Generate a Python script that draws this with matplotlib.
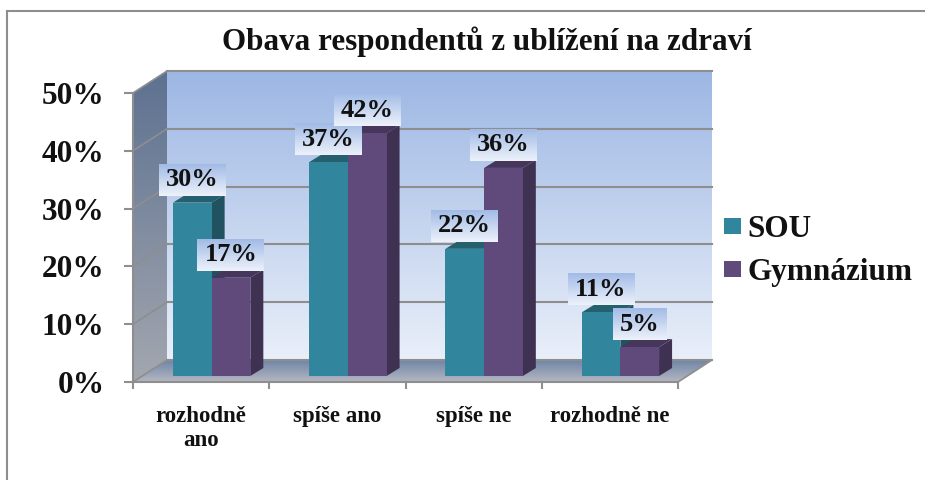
import numpy as np
import matplotlib
matplotlib.use('Agg')
import matplotlib.pyplot as plt
from matplotlib.colors import LinearSegmentedColormap
from matplotlib.lines import Line2D
from matplotlib.patches import Patch, Polygon

# data
categories = ['rozhodně\nano', 'spíše ano', 'spíše ne', 'rozhodně ne']
sou = [30, 37, 22, 11]
gymnazium = [17, 42, 36, 5]
y_ticks = [0, 10, 20, 30, 40, 50]

TEAL = '#31859c'
PURPLE = '#604a7b'
GRAY = '#8e8e8e'

plt.rcParams['font.family'] = ['Liberation Serif', 'DejaVu Serif']
plt.rcParams['font.weight'] = 'bold'

fig = plt.figure(figsize=(9.25, 4.8), dpi=100, facecolor='white')
ax = fig.add_axes([133 / 925, 1 - 382 / 480, 545 / 925, 289 / 480])
ax.patch.set_visible(False)
ax.set_xlim(0, 4)
ax.set_ylim(0, 50)

# pixel sizes expressed in data units
PX = 4 / 545
PY = 50 / 289
wall_dx, wall_dy = 34 * PX, 22 * PY
bar_w = 38.7 * PX
bar_dx, bar_dy = 13 * PX, 8 * PY
base = 6 * PY
group_shift = 10.5 * PX


def gradient(verts, top, bottom, z):
    """Fill a polygon with a vertical two colour gradient"""
    verts = np.array(verts)
    cmap = LinearSegmentedColormap.from_list('g', [top, bottom])
    img = ax.imshow(np.linspace(0, 1, 128).reshape(-1, 1), cmap=cmap, aspect='auto',
                    extent=(verts[:, 0].min(), verts[:, 0].max(), verts[:, 1].min(), verts[:, 1].max()),
                    origin='upper', zorder=z, interpolation='bilinear')
    # the walls stick out past the axes box, so only clip to the polygon
    img.set_clip_box(fig.bbox)
    img.set_clip_path(Polygon(verts, transform=ax.transData))


# back wall, side wall, floor
gradient([(wall_dx, wall_dy), (4 + wall_dx, wall_dy), (4 + wall_dx, 50 + wall_dy), (wall_dx, 50 + wall_dy)],
         '#9db7e4', '#e9eff9', 1)
gradient([(0, 0), (wall_dx, wall_dy), (wall_dx, 50 + wall_dy), (0, 50)], '#5d7191', '#a3a7af', 1)
gradient([(0, 0), (4, 0), (4 + wall_dx, wall_dy), (wall_dx, wall_dy)], '#6f86a8', '#b5b7c1', 1)

# gridlines run along the back wall and down the side wall
for v in y_ticks:
    ax.plot([wall_dx, 4 + wall_dx], [v + wall_dy, v + wall_dy], color=GRAY, lw=1.5, zorder=2, clip_on=False)
    ax.plot([0, wall_dx], [v, v + wall_dy], color=GRAY, lw=1.2, zorder=2, clip_on=False)
ax.plot([4, 4 + wall_dx], [0, wall_dy], color=GRAY, lw=1.2, zorder=2, clip_on=False)


def bar3d(x0, value, front, top, side, z):
    y1 = base + value
    ax.add_patch(Polygon([(x0 + bar_w, base), (x0 + bar_w + bar_dx, base + bar_dy),
                          (x0 + bar_w + bar_dx, y1 + bar_dy), (x0 + bar_w, y1)],
                         fc=side, ec='none', zorder=z, clip_on=False))
    ax.add_patch(Polygon([(x0, y1), (x0 + bar_w, y1), (x0 + bar_w + bar_dx, y1 + bar_dy), (x0 + bar_dx, y1 + bar_dy)],
                         fc=top, ec='none', zorder=z, clip_on=False))
    ax.add_patch(Polygon([(x0, base), (x0 + bar_w, base), (x0 + bar_w, y1), (x0, y1)],
                         fc=front, ec='none', zorder=z, clip_on=False))


def value_label(xc, value, z):
    # box sits on the back edge of the bar top, single digits get a narrower one
    y0 = base + value + bar_dy - 1 * PY
    w = (67 if value >= 10 else 54) * PX
    h = 32 * PY
    box = [(xc - w / 2, y0), (xc + w / 2, y0), (xc + w / 2, y0 + h), (xc - w / 2, y0 + h)]
    gradient(box, '#a2bbe6', '#edf2fb', z)
    ax.text(xc, y0 + h * 0.5, f'{value}%', ha='center', va='center', fontsize=19,
            color='#111111', zorder=z + 0.5, clip_on=False)


for i in range(len(categories)):
    x0 = i + 0.5 + group_shift - bar_w
    bar3d(x0, sou[i], TEAL, '#25606f', '#20525f', 3 + i * 0.1)
    bar3d(x0 + bar_w, gymnazium[i], PURPLE, '#46365c', '#3f3151', 3.01 + i * 0.1)

# labels go on top of every bar, drawn in series order
z = 5
for i in range(len(categories)):
    x0 = i + 0.5 + group_shift - bar_w
    value_label(x0 + bar_w / 2, sou[i], z)
    value_label(x0 + bar_w * 1.5, gymnazium[i], z + 1)
    z += 2

ax.set_xlim(0, 4)
ax.set_ylim(0, 50)

# axes
for s in ['top', 'right']:
    ax.spines[s].set_visible(False)
for s in ['left', 'bottom']:
    ax.spines[s].set_color(GRAY)
    ax.spines[s].set_linewidth(1.5)
    ax.spines[s].set_zorder(2.5)
ax.set_yticks(y_ticks)
ax.set_yticklabels([f'{v}%' for v in y_ticks], fontsize=22.5, color='#111111')
ax.tick_params(axis='y', length=6.5, width=1.5, color=GRAY, pad=14)
ax.set_xticks(range(5))
ax.set_xticklabels([])
ax.set_xticks([i + 0.5 for i in range(4)], minor=True)
ax.set_xticklabels(categories, minor=True, fontsize=16.5, color='#111111', linespacing=1.2)
ax.tick_params(axis='x', which='major', length=5, width=1.5, color=GRAY)
ax.tick_params(axis='x', which='minor', length=0, pad=17)

fig.text(487 / 925, 1 - 41.5 / 480, 'Obava respondentů z ublížení na zdraví', ha='center', va='center',
         fontsize=22.4, color='#111111')

handles = [Patch(fc=TEAL, ec='none', label='SOU'), Patch(fc=PURPLE, ec='none', label='Gymnázium')]
fig.legend(handles=handles, loc='center left', bbox_to_anchor=(724 / 925, 1 - 251 / 480), frameon=False,
           fontsize=22.5, handlelength=0.55, handleheight=0.4, handletextpad=0.2, labelspacing=0.45,
           borderpad=0, borderaxespad=0, labelcolor='#111111')

# outer chart frame, cut off by the image edge on the right and bottom
fig.add_artist(Line2D([7 / 925, 7 / 925], [0, 1 - 11 / 480], color=GRAY, lw=1.5, transform=fig.transFigure))
fig.add_artist(Line2D([7 / 925, 1], [1 - 11 / 480, 1 - 11 / 480], color=GRAY, lw=1.5, transform=fig.transFigure))

fig.savefig('out.png', dpi=100)
